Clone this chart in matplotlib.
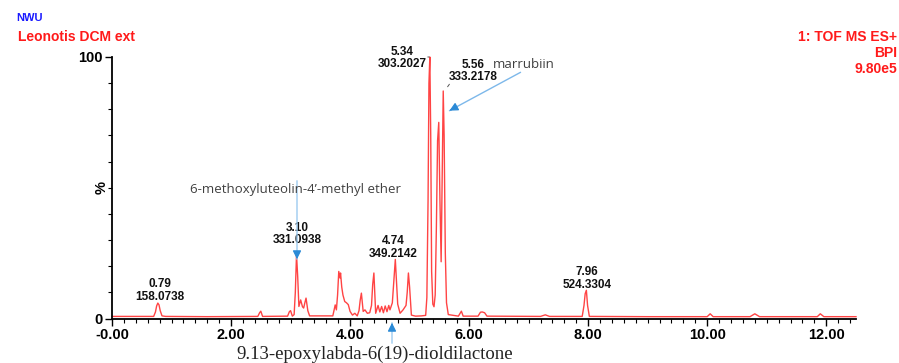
import matplotlib
matplotlib.use('Agg')
import matplotlib.pyplot as plt
from matplotlib.ticker import MultipleLocator

# Chromatogram trace (retention time in min, relative intensity in %)
rt = [0.00, 0.30, 0.70, 0.73, 0.75, 0.77, 0.79, 0.81, 0.84, 0.90, 1.60,
      2.45, 2.48, 2.50, 2.53, 2.95, 2.98, 3.00, 3.03, 3.06, 3.08, 3.10,
      3.12, 3.14, 3.17, 3.20, 3.22, 3.24, 3.26, 3.29, 3.32, 3.71, 3.75,
      3.77, 3.79, 3.81, 3.83, 3.84, 3.86, 3.88, 3.91, 3.94, 3.97, 4.00,
      4.04, 4.08, 4.12, 4.15, 4.17, 4.19, 4.22, 4.25, 4.29, 4.33, 4.36,
      4.38, 4.40, 4.43, 4.47, 4.50, 4.53, 4.56, 4.59, 4.62, 4.65, 4.67,
      4.71, 4.74, 4.76, 4.78, 4.80, 4.84, 4.89, 4.94, 4.96, 4.98, 5.00,
      5.03, 5.10, 5.20, 5.27, 5.29, 5.31, 5.325, 5.34, 5.355, 5.37, 5.39,
      5.41, 5.43, 5.45, 5.47, 5.49, 5.51, 5.53, 5.55, 5.565, 5.58, 5.60,
      5.62, 5.65, 5.82, 5.85, 5.87, 5.90, 6.15, 6.19, 6.22, 6.26, 6.30,
      7.20, 7.28, 7.35, 7.90, 7.93, 7.95, 7.97, 7.99, 8.02, 9.00, 10.00,
      10.05, 10.10, 10.72, 10.80, 10.88, 11.85, 11.90, 11.96, 12.50]
intensity = [0.8, 0.8, 0.8, 2.5, 4.8, 5.9, 5.2, 3.0, 1.0, 0.8, 0.7,
             0.8, 2.2, 2.8, 0.8, 0.9, 2.6, 3.0, 0.9, 1.5, 10.0, 24.5,
             16.0, 4.6, 7.1, 4.5, 4.0, 6.0, 7.8, 3.0, 1.0, 1.0, 5.2,
             3.3, 9.0, 18.0, 15.5, 17.4, 12.0, 9.0, 6.5, 6.0, 5.3, 2.7,
             1.3, 2.0, 1.0, 3.0, 7.0, 9.7, 2.7, 3.3, 2.0, 2.2, 5.0,
             13.0, 17.4, 2.0, 5.0, 2.5, 4.6, 2.2, 4.8, 2.6, 5.0, 3.3,
             6.0, 16.0, 22.6, 14.0, 5.5, 2.0, 3.3, 5.0, 10.0, 17.4, 12.0,
             1.3, 0.9, 1.0, 1.2, 8.0, 45.0, 90.0, 100.0, 70.0, 18.0, 5.5,
             4.5, 9.0, 35.0, 68.0, 75.0, 45.0, 21.7, 60.0, 87.0, 70.0, 25.0,
             6.0, 1.5, 0.9, 2.0, 2.8, 0.9, 0.9, 2.4, 2.5, 2.2, 0.9,
             0.8, 1.4, 0.8, 0.8, 5.0, 9.5, 10.8, 5.0, 0.8, 0.7, 0.7,
             1.8, 0.7, 0.7, 1.8, 0.7, 0.7, 1.8, 0.7, 0.7]

# Labelled peaks
peak_rt = ['0.79', '3.10', '4.74', '5.34', '5.56', '7.96']
peak_mz = ['158.0738', '331.0938', '349.2142', '303.2027', '333.2178', '524.3304']
# label anchor (x centre, y bottom) in data units
label_x = [0.81, 3.11, 4.72, 4.87, 6.07, 7.98]
label_y = [6.0, 27.6, 22.5, 95.0, 90.0, 10.6]

x_ticks = [0, 2, 4, 6, 8, 10, 12]
x_ticklabels = ['-0.00', '2.00', '4.00', '6.00', '8.00', '10.00', '12.00']

W, H = 899, 363
fig = plt.figure(figsize=(W / 100, H / 100), dpi=100)
ax = fig.add_axes([112 / W, 44.5 / H, 744 / W, 261.5 / H])


def px(x, y):
    # pixel position (from top-left) -> figure fraction
    return (x / W, 1 - y / H)


ax.plot(rt, intensity, color='#ff4444', lw=1.0, clip_on=False)

ax.set_xlim(0, 12.5)
ax.set_ylim(0, 100)
for s in ['top', 'right']:
    ax.spines[s].set_visible(False)
for s in ['left', 'bottom']:
    ax.spines[s].set_linewidth(1.3)

ax.set_xticks(x_ticks)
ax.set_xticklabels(x_ticklabels, fontfamily='Liberation Sans',
                   fontweight='bold', fontsize=10.5)
ax.xaxis.set_minor_locator(MultipleLocator(0.2))
ax.set_yticks([0, 100])
ax.set_yticklabels(['0', '100'], fontfamily='Liberation Sans',
                   fontweight='bold', fontsize=10.5)
ax.yaxis.set_minor_locator(MultipleLocator(10))
ax.tick_params(axis='both', which='major', length=5, width=1, pad=2)
ax.tick_params(axis='both', which='minor', length=3, width=0.8)
ax.set_ylabel('%', fontfamily='Liberation Sans', fontweight='bold',
              fontsize=10.5)
ax.yaxis.set_label_coords(-0.004, 0.5)

# peak labels
for i in range(len(peak_rt)):
    ax.text(label_x[i], label_y[i], peak_rt[i] + '\n' + peak_mz[i],
            ha='center', va='bottom', fontsize=8.5, fontweight='bold',
            fontfamily='Liberation Sans', linespacing=1.05, color='#111111')

# small leader lines of the two main labels
ax.annotate('', xy=px(432, 57), xytext=px(425, 57), xycoords='figure fraction',
            textcoords='figure fraction',
            arrowprops=dict(arrowstyle='-', color='#555555', lw=0.7))
ax.annotate('', xy=px(446, 89), xytext=px(451, 82), xycoords='figure fraction',
            textcoords='figure fraction',
            arrowprops=dict(arrowstyle='-', color='#555555', lw=0.7))

# header texts
fig.text(*px(16, 18), 'NWU', color='#1a1aff', fontsize=8, fontweight='bold',
         fontfamily='Liberation Sans', va='center', ha='left')
fig.text(*px(18, 37), 'Leonotis DCM ext', color='#ff1a1a', fontsize=10,
         fontweight='bold', fontfamily='Liberation Sans', va='center', ha='left')
fig.text(*px(897, 37), '1: TOF MS ES+', color='#ff1a1a', fontsize=10,
         fontweight='bold', fontfamily='Liberation Sans', va='center', ha='right')
fig.text(*px(897, 53), 'BPI', color='#ff1a1a', fontsize=10,
         fontweight='bold', fontfamily='Liberation Sans', va='center', ha='right')
fig.text(*px(897, 69), '9.80e5', color='#ff1a1a', fontsize=10,
         fontweight='bold', fontfamily='Liberation Sans', va='center', ha='right')

# compound annotations
arrow_kw = dict(arrowstyle='-|>,head_length=0.5,head_width=0.25',
                color='#2b8ad6', lw=0.9)
fig.text(*px(296, 190), '6-methoxyluteolin-4\u2019-methyl ether', color='#404040',
         fontsize=9.5, fontfamily='Open Sans', ha='center', va='center')
ax.annotate('', xy=px(297, 262), xytext=px(297, 178), xycoords='figure fraction',
            textcoords='figure fraction',
            arrowprops=dict(arrowstyle='-', color='#9ccbf0', lw=1.0))
ax.annotate('', xy=px(297, 262), xytext=px(297, 250), xycoords='figure fraction',
            textcoords='figure fraction', arrowprops=arrow_kw)

fig.text(*px(524, 65), 'marrubiin', color='#404040', fontsize=9.5,
         fontfamily='Open Sans', ha='center', va='center')
ax.annotate('', xy=px(447, 112), xytext=px(523, 71), xycoords='figure fraction',
            textcoords='figure fraction',
            arrowprops=dict(arrowstyle='-', color='#7db8ea', lw=1.0))
ax.annotate('', xy=px(447, 112), xytext=px(458, 106), xycoords='figure fraction',
            textcoords='figure fraction', arrowprops=arrow_kw)

ax.annotate('', xy=px(392, 320), xytext=px(392, 346), xycoords='figure fraction',
            textcoords='figure fraction',
            arrowprops=dict(arrowstyle='-', color='#9ccbf0', lw=1.0))
ax.annotate('', xy=px(392, 320), xytext=px(392, 330), xycoords='figure fraction',
            textcoords='figure fraction', arrowprops=arrow_kw)
fig.text(*px(375, 354), '9.13-epoxylabda-6(19)-dioldilactone', color='#222222',
         fontsize=13.5, fontfamily='Liberation Serif', ha='center', va='center')

fig.savefig('out.png', dpi=100)
